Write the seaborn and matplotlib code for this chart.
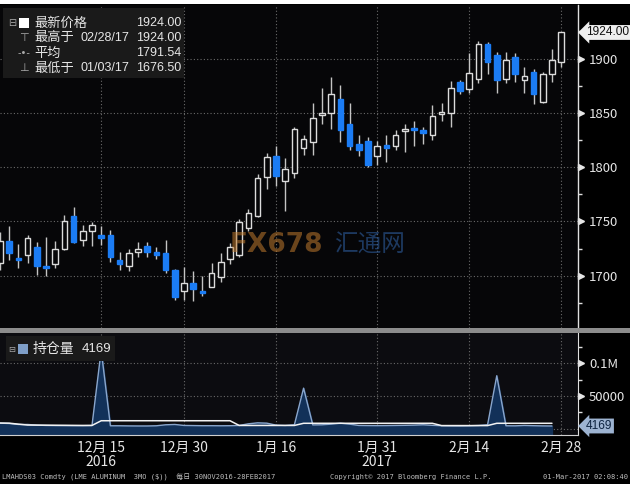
import numpy as np
import pandas as pd
import matplotlib
matplotlib.use("Agg")
import matplotlib.pyplot as plt
from matplotlib.patches import Rectangle
from matplotlib.lines import Line2D
from matplotlib.transforms import blended_transform_factory
import seaborn as sns

# LME aluminium 3M, daily candles 30 Nov 2016 - 28 Feb 2017
dates = pd.bdate_range("2016-11-30", "2017-02-28", freq="C",
                       holidays=["2016-12-26", "2016-12-27", "2017-01-02"])
open_ = [1712, 1732, 1716, 1719, 1726, 1709, 1711, 1725, 1755, 1733, 1741, 1737, 1737, 1714, 1709, 1722,
         1727, 1722, 1721, 1705, 1686, 1693, 1686, 1690, 1699, 1715, 1719, 1744, 1755, 1791, 1810, 1787,
         1795, 1818, 1823, 1848, 1850, 1863, 1840, 1821, 1824, 1810, 1820, 1819, 1833, 1836, 1834, 1830,
         1849, 1850, 1878, 1872, 1881, 1913, 1903, 1881, 1901, 1880, 1888, 1860, 1886, 1897]
high = [1740, 1746, 1729, 1737, 1731, 1736, 1732, 1756, 1763, 1747, 1749, 1746, 1742, 1722, 1725, 1731,
        1731, 1726, 1733, 1706, 1708, 1704, 1700, 1712, 1721, 1730, 1752, 1761, 1794, 1813, 1819, 1808,
        1837, 1830, 1859, 1873, 1883, 1876, 1859, 1830, 1828, 1824, 1830, 1834, 1840, 1842, 1837, 1857,
        1859, 1879, 1880, 1905, 1916, 1915, 1906, 1906, 1905, 1892, 1890, 1888, 1909, 1924]
low = [1705, 1714, 1707, 1712, 1701, 1700, 1707, 1724, 1730, 1727, 1727, 1728, 1713, 1705, 1704, 1717,
       1717, 1715, 1702, 1678, 1678, 1676.5, 1681, 1690, 1694, 1711, 1717, 1741, 1754, 1780, 1783, 1760,
       1790, 1811, 1811, 1840, 1835, 1823, 1816, 1810, 1800, 1802, 1805, 1816, 1814, 1819, 1821, 1825,
       1842, 1837, 1867, 1868, 1877, 1886, 1868, 1877, 1878, 1868, 1858, 1859, 1878, 1892]
close = [1732, 1721, 1714, 1735, 1709, 1707, 1725, 1750, 1731, 1741, 1747, 1735, 1717, 1711, 1721, 1725,
         1722, 1719, 1705, 1680, 1693, 1688, 1684, 1702, 1713, 1726, 1749, 1758, 1790, 1809, 1792, 1798,
         1835, 1826, 1845, 1850, 1867, 1834, 1819, 1816, 1802, 1819, 1818, 1830, 1835, 1834, 1831, 1847,
         1851, 1873, 1870, 1887, 1913, 1897, 1880, 1899, 1886, 1884, 1867, 1886, 1899, 1924]

# open interest, last print on 27 Feb
open_interest = [8500, 8000, 6500, 6500, 5500, 5000, 4800, 4800, 4700, 4700, 5000, 120000, 4500, 4500,
                 4300, 4200, 4200, 4500, 6000, 6500, 5000, 4800, 4600, 4600, 4500, 4600, 5000, 7500, 9000,
                 8500, 5500, 5000, 6000, 62000, 5800, 6000, 7000, 8500, 7000, 5000, 4800, 4700, 4800, 5000,
                 5200, 5500, 6000, 5200, 4600, 4400, 4300, 4500, 5000, 6000, 81000, 4500, 4400, 5000, 4600,
                 4300, 4169]
oi_avg = [8700, 8500, 7000, 5600, 5500, 5400, 5300, 5200, 5100, 5000, 5000, 12200, 12200, 12200, 12200,
          12200, 12200, 12200, 12200, 12200, 12200, 12200, 12200, 12200, 12200, 12200, 5000, 5000, 5000,
          5000, 5000, 5000, 5000, 8300, 8300, 8300, 8300, 8300, 8300, 8300, 8300, 8300, 8300, 8300, 8300,
          8300, 8300, 8300, 4800, 4800, 4800, 4800, 4800, 4800, 8300, 8300, 8300, 8300, 8300, 8300, 8300]

tick_idx = [11, 20, 30, 41, 51, 61]
tick_labels = ["12月 15\n2016", "12月 30", "1月 16", "1月 31\n2017", "2月 14", "2月 28"]
minor_idx = [6, 17, 25, 35, 46, 56]
price_ticks = [1700, 1750, 1800, 1850, 1900]
oi_ticks = [0, 50000, 100000]
oi_tick_labels = ["", "50000", "0.1M"]

W, H = 630, 490


def fx(px):
    return px / W


def fy(py):
    return 1 - py / H


sns.set_style("dark")
plt.rcParams["font.family"] = ["Noto Sans CJK SC", "DejaVu Sans"]

fig = plt.figure(figsize=(6.3, 4.9), dpi=100, facecolor="black")
ax1 = fig.add_axes([0, fy(328), fx(578), (328 - 5) / H])
ax2 = fig.add_axes([0, fy(435), fx(578), (435 - 333) / H])

grid_kw = dict(color="#6a6a6a", linestyle=(0, (1, 2)), linewidth=0.8)
txt_col = "#e6e6e6"
num_font = ["Liberation Sans", "DejaVu Sans"]

# ---- price panel ----
df = pd.DataFrame({"open": open_, "high": high, "low": low, "close": close})
df["x"] = np.arange(len(df))
up = df.close >= df.open
ax1.set_facecolor("#060608")
ax1.vlines(df.x, df.low, df.high, color="#c4c4c4", linewidth=1, zorder=2)
body = (df.close - df.open).abs().clip(lower=1.6)
bottom = df[["open", "close"]].min(axis=1)
ax1.bar(df.x[up], body[up], bottom=bottom[up], width=0.62, color="#060608",
        edgecolor="#dcdcdc", linewidth=1, zorder=3)
ax1.bar(df.x[~up], body[~up], bottom=bottom[~up], width=0.62, color="#1b7cf4",
        edgecolor="#1b7cf4", linewidth=1, zorder=3)

ax1.set_xlim(0, 62.83)
ax1.set_ylim(1651.8, 1949.3)
ax1.set_xticks(tick_idx)
ax1.tick_params(axis="x", length=0, labelbottom=False)
ax1.yaxis.tick_right()
ax1.set_yticks(price_ticks)
ax1.set_yticklabels([str(t) for t in price_ticks])
ax1.set_yticks([1675, 1725, 1775, 1825, 1875, 1925], minor=True)
ax1.tick_params(axis="y", which="major", length=0, pad=8, labelsize=9.5, labelcolor=txt_col)
ax1.tick_params(axis="y", which="minor", length=3, width=1, color="#dddddd", direction="out")
ax1.grid(True, which="major", **grid_kw)
for s in ["left", "top", "bottom"]:
    ax1.spines[s].set_visible(False)
ax1.spines["right"].set_color("#e0e0e0")
ax1.spines["right"].set_linewidth(1)
tr1 = blended_transform_factory(ax1.transAxes, ax1.transData)
ax1.plot([1.005] * len(price_ticks), price_ticks, ls="none", marker=">", ms=4,
         color=txt_col, transform=tr1, clip_on=False)
ax1.text(1.0138, close[-1], f"{close[-1]:.2f}", transform=tr1, va="center", ha="left",
         fontsize=8.6, color="#111111", family=num_font,
         bbox=dict(boxstyle="larrow,pad=0.12", fc="#eeeeee", ec="none"))

# ---- open interest panel ----
ax2.set_facecolor("#0c0c10")
x_oi = np.arange(len(open_interest))
ax2.fill_between(x_oi, open_interest, -12000, color="#123159", zorder=2)
sns.lineplot(x=x_oi, y=open_interest, ax=ax2, color="#8aa6cc", linewidth=1, zorder=3)
sns.lineplot(x=x_oi, y=oi_avg, ax=ax2, color="#f2f2f2", linewidth=1.1, zorder=4)
ax2.set_xlim(0, 62.83)
ax2.set_ylim(-9600, 146300)
ax2.yaxis.tick_right()
ax2.set_yticks(oi_ticks)
ax2.set_yticklabels(oi_tick_labels)
ax2.set_yticks([25000, 75000, 125000], minor=True)
ax2.tick_params(axis="y", which="major", length=0, pad=8, labelsize=9.5, labelcolor=txt_col)
ax2.tick_params(axis="y", which="minor", length=3, width=1, color="#dddddd", direction="out")
ax2.set_xticks(tick_idx)
ax2.set_xticklabels(tick_labels, linespacing=1.05)
ax2.set_xticks(minor_idx, minor=True)
ax2.tick_params(axis="x", which="both", direction="in", length=4, width=1, color="#dddddd",
                labelsize=10, labelcolor=txt_col, pad=4)
ax2.grid(True, which="major", **grid_kw)
ax2.set_ylabel("")
for s in ["left", "top"]:
    ax2.spines[s].set_visible(False)
ax2.spines["right"].set_color("#e0e0e0")
ax2.spines["bottom"].set_color("#cfcfcf")
tr2 = blended_transform_factory(ax2.transAxes, ax2.transData)
ax2.plot([1.005] * 2, oi_ticks[1:], ls="none", marker=">", ms=4,
         color=txt_col, transform=tr2, clip_on=False)
ax2.text(1.0138, open_interest[-1], f"{open_interest[-1]}", transform=tr2, va="center", ha="left",
         fontsize=8.6, color="#0d2340", family=num_font,
         bbox=dict(boxstyle="larrow,pad=0.12", fc="#9db3d1", ec="none"))

# separator and white borders
fig.patches.append(Rectangle((0, fy(333)), 1, 5 / H, transform=fig.transFigure,
                             fc="#8c8c8c", ec="none", zorder=1))
fig.patches.append(Rectangle((0, fy(4)), 1, 4 / H, transform=fig.transFigure,
                             fc="white", ec="none", zorder=1))
fig.patches.append(Rectangle((0, 0), 1, 6 / H, transform=fig.transFigure,
                             fc="white", ec="none", zorder=1))

# legend box, price panel
fig.patches.append(Rectangle((fx(3), fy(78)), 181 / W, 70 / H, transform=fig.transFigure,
                             fc="#1a1a1a", ec="none", zorder=2))
fig.patches.append(Rectangle((fx(19), fy(28)), 10 / W, 10 / H, transform=fig.transFigure,
                             fc="white", ec="none", zorder=3))
fig.text(fx(8), fy(23), "⊟", fontsize=7, color="#aaaaaa", va="center", family=["DejaVu Sans"])
fig.add_artist(Line2D([fx(11), fx(11)], [fy(28), fy(68)], color="#888888", lw=0.8))
for yy in [38, 53, 68]:
    fig.add_artist(Line2D([fx(11), fx(16)], [fy(yy), fy(yy)], color="#888888", lw=0.8))
fig.text(fx(19), fy(38), "⊤", fontsize=8, color="#aaaaaa", va="center", family=["DejaVu Sans"])
fig.text(fx(24), fy(53), "-•-", fontsize=7, color="#aaaaaa", va="center", ha="center",
         family=["DejaVu Sans"])
fig.text(fx(19), fy(68), "⊥", fontsize=8, color="#aaaaaa", va="center", family=["DejaVu Sans"])
rows = [("最新价格", "", "1924.00"), ("最高于", "02/28/17", "1924.00"),
        ("平均", "", "1791.54"), ("最低于", "01/03/17", "1676.50")]
for k, (lab, day, val) in enumerate(rows):
    yy = fy(23 + 15 * k)
    fig.text(fx(34), yy, lab, fontsize=9.5, color=txt_col, va="center")
    fig.text(fx(81), yy, day, fontsize=9, color=txt_col, va="center", family=num_font)
    fig.text(fx(181), yy, val, fontsize=9, color=txt_col, va="center", ha="right", family=num_font)

# legend box, open interest panel
fig.patches.append(Rectangle((fx(6), fy(361)), 109 / W, 25 / H, transform=fig.transFigure,
                             fc="#1a1a1a", ec="none", zorder=2))
fig.text(fx(8), fy(349), "⊟", fontsize=6, color="#aaaaaa", va="center", family=["DejaVu Sans"])
fig.patches.append(Rectangle((fx(18), fy(354)), 10 / W, 10 / H, transform=fig.transFigure,
                             fc="#7f9fc8", ec="none", zorder=3))
fig.text(fx(33), fy(349), "持仓量", fontsize=10, color=txt_col, va="center")
fig.text(fx(82), fy(349), "4169", fontsize=9.5, color=txt_col, va="center", family=num_font)

# watermark
fig.text(fx(230), fy(245), "FX678", fontsize=19, fontweight="bold", color="#c07a2e",
         alpha=0.55, va="center", family=["DejaVu Sans"])
fig.text(fx(334), fy(245), "汇通网", fontsize=17, color="#2d5c9c", alpha=0.6, va="center")

# footer
foot_kw = dict(fontsize=5, color="#bdbdbd", va="center", family=["DejaVu Sans Mono", "Noto Sans CJK SC"])
fig.text(fx(2), fy(477), "LMAHDS03 Comdty (LME ALUMINUM  3MO ($))  每日 30NOV2016-28FEB2017", **foot_kw)
fig.text(fx(330), fy(477), "Copyright© 2017 Bloomberg Finance L.P.", **foot_kw)
fig.text(fx(628), fy(477), "01-Mar-2017 02:08:40", ha="right", **foot_kw)

fig.savefig("out.png", dpi=100, facecolor="black")
